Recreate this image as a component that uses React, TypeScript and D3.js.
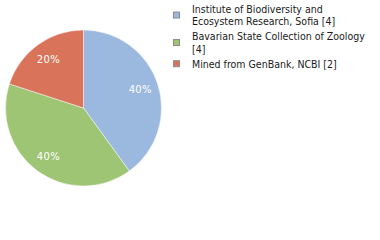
import React, { useRef, useEffect } from "react";
import * as d3 from "d3";

const labels = [
  ["Institute of Biodiversity and", "Ecosystem Research, Sofia [4]"],
  ["Bavarian State Collection of Zoology", "[4]"],
  ["Mined from GenBank, NCBI [2]"],
];
const counts = [4, 4, 2];
const colors = ["#9bb8df", "#9dc574", "#d9745a"];

export default function App() {
  const ref = useRef<SVGSVGElement>(null);

  useEffect(() => {
    const svg = d3.select(ref.current);
    svg.selectAll("*").remove();
    const cx = 83.5,
      cy = 108,
      r = 78;
    const total = d3.sum(counts);
    const pie = d3.pie<number>().sort(null)(counts);
    const arc = d3.arc<d3.PieArcDatum<number>>().innerRadius(0).outerRadius(r);
    const g = svg.append("g").attr("transform", `translate(${cx},${cy})`);
    g.selectAll("path")
      .data(pie)
      .enter()
      .append("path")
      .attr("d", arc)
      .attr("fill", (d, i) => colors[i])
      .attr("stroke", "#fff")
      .attr("stroke-width", 0.5);
    const labelArc = d3.arc<d3.PieArcDatum<number>>().innerRadius(r * 0.765).outerRadius(r * 0.765);
    g.selectAll("text")
      .data(pie)
      .enter()
      .append("text")
      .attr("transform", (d) => `translate(${labelArc.centroid(d)})`)
      .attr("text-anchor", "middle")
      .attr("y", 3.7)
      .attr("fill", "#fff")
      .style("font-family", "DejaVu Sans")
      .style("font-size", "10px")
      .style("letter-spacing", "0.3px")
      .text((d) => Math.round((d.value / total) * 100) + "%");

    const lg = svg
      .append("g")
      .style("font-family", "'DejaVu Sans Condensed', 'DejaVu Sans'")
      .style("font-size", "10.5px");
    const lh = 12.7;
    let b0 = 12.7;
    labels.forEach((lines, i) => {
      const bLast = b0 + (lines.length - 1) * lh;
      const mid = (b0 - 8 + bLast) / 2;
      lg.append("rect")
        .attr("x", 173.5)
        .attr("y", mid - 3)
        .attr("width", 6)
        .attr("height", 6)
        .attr("fill", colors[i])
        .attr("stroke", "#8c8c8c")
        .attr("stroke-width", 1);
      lines.forEach((t, k) => {
        lg.append("text")
          .attr("x", 192)
          .attr("y", b0 + k * lh)
          .attr("fill", "#1a1a1a")
          .text(t);
      });
      b0 += lines.length * lh + 2.1;
    });
  }, []);

  return (
    <svg
      ref={ref}
      width={380}
      height={240}
      style={{ position: "absolute", left: 0, top: 0 }}
    ></svg>
  );
}
